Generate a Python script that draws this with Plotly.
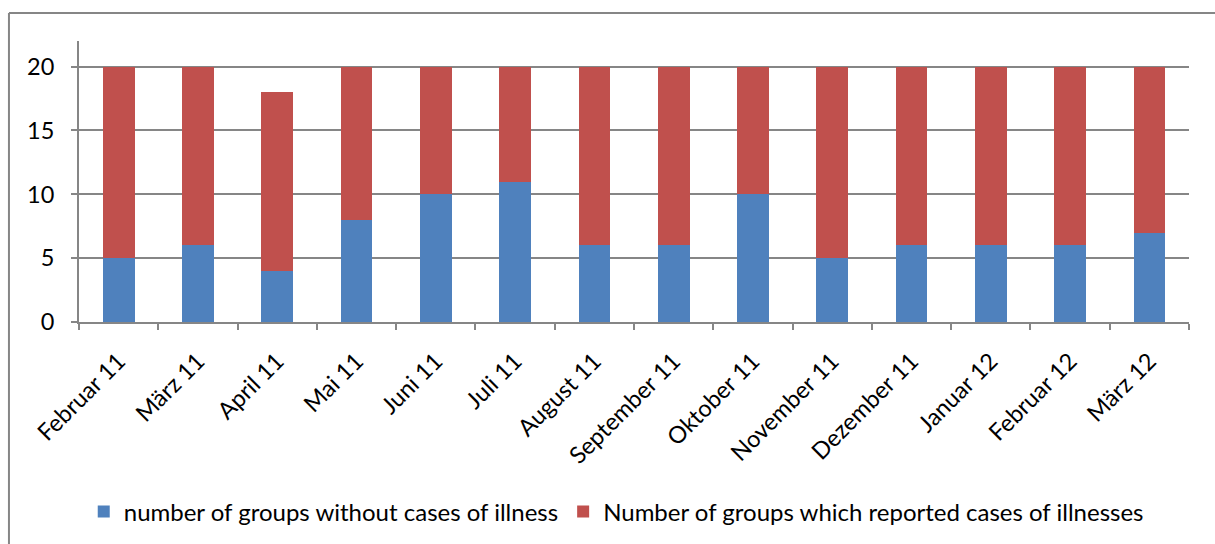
import plotly.graph_objects as go

months = ["Februar 11", "März 11", "April 11", "Mai 11", "Juni 11", "Juli 11", "August 11",
          "September 11", "Oktober 11", "November 11", "Dezember 11", "Januar 12", "Februar 12", "März 12"]
without_illness = [5, 6, 4, 8, 10, 11, 6, 6, 10, 5, 6, 6, 6, 7]
with_illness = [15, 14, 14, 12, 10, 9, 14, 14, 10, 15, 14, 14, 14, 13]

FONT = "Lato"
fig = go.Figure()
fig.add_trace(go.Bar(x=months, y=without_illness, name="number of groups without cases of illness",
                     marker=dict(color="#4F81BD", line=dict(width=0))))
fig.add_trace(go.Bar(x=months, y=with_illness, name="Number of groups which reported cases of illnesses",
                     marker=dict(color="#C0504D", line=dict(width=0))))

FRAME = dict(color="#868686", width=2)
fig.update_layout(
    barmode="stack", bargap=0.6,
    width=1215, height=544,
    margin=dict(l=79, r=26, t=41, b=221),
    plot_bgcolor="white", paper_bgcolor="white",
    font=dict(family=FONT, size=23, color="black"),
    showlegend=True,
    legend=dict(orientation="h", x=0.484, xanchor="center", y=-0.67, yanchor="middle",
                font=dict(size=24), itemsizing="constant", traceorder="normal"),
    xaxis=dict(showline=True, linecolor="#868686", linewidth=2, tickangle=-45,
               ticks="outside", tickson="boundaries", ticklen=6, tickcolor="#868686", tickwidth=2,
               showgrid=False, tickfont=dict(size=23.5), ticklabelstandoff=14),
    yaxis=dict(range=[0, 22], dtick=5, showline=True, linecolor="#868686", linewidth=2,
               ticks="outside", ticklen=6, tickcolor="#868686", tickwidth=2,
               showgrid=True, gridcolor="#868686", gridwidth=2, zeroline=False,
               tickfont=dict(size=23.5), ticklabelstandoff=12),
    shapes=[
        dict(type="line", xref="paper", yref="paper", x0=-0.0631, x1=-0.0631, y0=-1.2, y1=1.0993, line=FRAME),
        dict(type="line", xref="paper", yref="paper", x0=-0.0631, x1=1.2, y0=1.0993, y1=1.0993, line=FRAME),
    ],
)
fig.write_html(
    "out.html",
    config={"displayModeBar": False},
    post_script="document.body.style.margin='0';document.body.style.overflow='hidden';",
)
